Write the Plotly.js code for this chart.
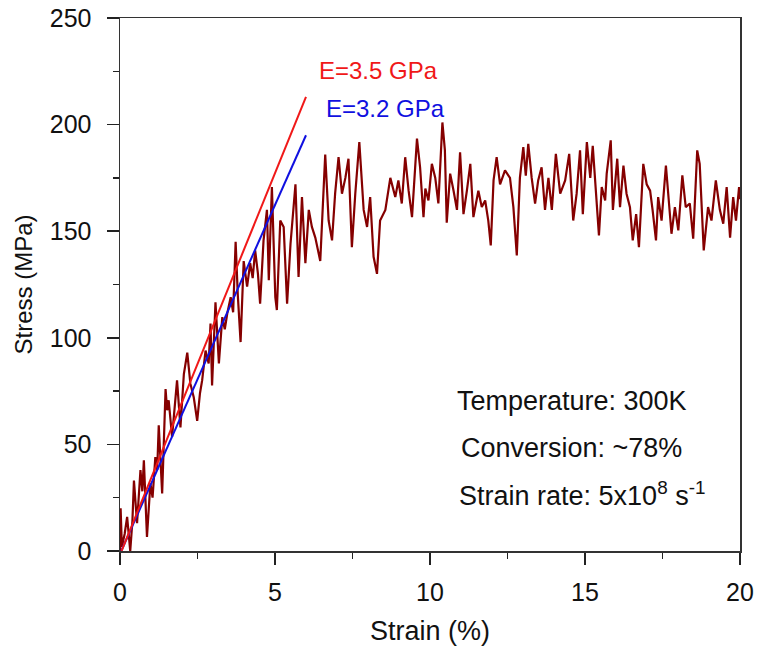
<!DOCTYPE html>
<html>
<head>
<meta charset="utf-8">
<script src="https://cdn.plot.ly/plotly-3.0.1.min.js"></script>
<style>html,body{margin:0;padding:0;background:#fff;}#chart{width:758px;height:654px;}</style>
</head>
<body>
<div id="chart"></div>
<script>
// Stress-strain curve (strain %, stress MPa)
const strain = [0.0,0.02,0.06,0.15,0.23,0.33,0.40,0.45,0.55,0.66,0.72,0.77,0.87,0.98,1.05,1.14,1.2,1.25,1.36,1.47,1.52,1.57,1.68,1.76,1.84,1.95,2.06,2.17,2.27,2.38,2.49,2.58,2.65,2.76,2.86,2.92,2.97,3.08,3.19,3.3,3.38,3.46,3.57,3.65,3.73,3.8,3.89,3.99,4.1,4.2,4.28,4.36,4.45,4.52,4.63,4.74,4.8,4.9,5.01,5.06,
5.17,5.28,5.39,5.5,5.66,5.76,5.87,5.98,6.09,6.19,6.3,6.46,6.62,6.73,6.84,6.94,7.05,7.16,7.27,7.37,7.48,7.59,7.72,7.86,7.97,8.07,8.18,8.29,8.39,8.56,8.72,8.88,8.98,9.09,9.2,9.31,9.42,9.58,9.68,9.79,9.85,9.95,
10.06,10.17,10.27,10.4,10.48,10.54,10.65,10.76,10.87,10.97,11.08,11.19,11.3,11.4,11.56,11.67,11.78,11.88,11.96,12.05,12.15,12.26,12.42,12.58,12.69,12.8,12.9,13.01,13.09,13.17,13.28,13.39,13.49,13.6,13.71,13.82,13.93,14.06,14.2,14.36,14.49,14.62,14.73,14.84,14.93,
15.06,15.17,15.25,15.36,15.45,15.54,15.65,15.7,15.83,15.9,16.04,16.13,16.24,16.34,16.45,16.54,16.65,16.74,16.88,16.99,17.1,17.18,17.29,17.36,17.47,17.61,17.72,17.79,17.9,18.01,18.14,18.25,18.38,18.49,18.62,18.7,18.83,18.97,19.08,19.22,19.35,19.46,19.57,19.68,19.78,19.87,19.97,20.0];
const stress = [0,20,2,8,16,0,14,33,13,38,28,42.5,6.6,31.7,25,44,38,59,27,76,66,70.7,53.5,66,80,58,83,93,78.5,72,61,74,80,94,88,106.7,77.6,116.7,88,109.7,104,111.4,119,112,145,120,98,136,124,135,128,141,130,116,145.6,160,127,170.7,119,113,
155,152,116,144,172,128.5,166,135,160,152,147,136,186,155,145.7,167.7,184.7,167.6,175,184,142.5,167.7,191.8,160,152,166,138,130,155,160,175,166,173.8,163,184.7,169,156.6,193.4,180,156.6,170,164.4,
181.6,175,163,201,188,154,177,169,160,187,158,169,181.6,156.6,169,161.3,164.4,155,143.3,173.8,184.7,172,178.5,175,161.3,138.6,175,189.4,176,191,175,163,173.8,180,160,175,160,186.3,167.6,173.8,186.3,155,167.6,187.9,158,
191.8,175,190,169,148,170.7,164.4,177,192.6,160,184,161.3,180.8,167.6,161.3,145.7,158,142.5,181.6,172,169,160,145.7,166,155,180.8,161.3,148.8,161.3,150.4,176.2,161.3,163,146.5,187.9,181.6,141,161.3,155,173.8,160,153.5,170.7,147,166,155,170.7,165];

// Linear fits
const redFitX = [0.05, 6.0];
const redFitY = [0, 213];
const blueFitX = [0.04, 6.0];
const blueFitY = [0, 195];

const redLabel = "E=3.5 GPa";
const blueLabel = "E=3.2 GPa";
const infoLines = ["Temperature: 300K", "Conversion: ~78%", "Strain rate: 5x10<sup>8</sup> s<sup>-1</sup>"];
const infoX = [10.82, 10.92, 10.88];
const infoY = [70.3, 48.2, 26.6];

const FONT = "Liberation Sans, Arial, sans-serif";

const traces = [
  {x: strain, y: stress, type: "scatter", mode: "lines", line: {color: "#850000", width: 2.2}, hoverinfo: "skip"},
  {x: blueFitX, y: blueFitY, type: "scatter", mode: "lines", line: {color: "#1010e0", width: 2}},
  {x: redFitX, y: redFitY, type: "scatter", mode: "lines", line: {color: "#f01818", width: 2}}
];

const annotations = [
  {x: 6.36, y: 225.6, xref: "x", yref: "y", text: redLabel, showarrow: false, xanchor: "left", yanchor: "middle", font: {family: FONT, size: 24, color: "#f01818"}},
  {x: 6.57, y: 207.6, xref: "x", yref: "y", text: blueLabel, showarrow: false, xanchor: "left", yanchor: "middle", font: {family: FONT, size: 24, color: "#1010e0"}}
];
for (let i = 0; i < infoLines.length; i++) {
  annotations.push({x: infoX[i], y: infoY[i], xref: "x", yref: "y", text: infoLines[i], showarrow: false, xanchor: "left", yanchor: "middle", font: {family: FONT, size: 27, color: "#111"}});
}

const layout = {
  width: 758, height: 654,
  margin: {l: 119.5, r: 18, t: 17.5, b: 103.3},
  paper_bgcolor: "#fff", plot_bgcolor: "#fff",
  showlegend: false,
  font: {family: FONT, color: "#111"},
  xaxis: {
    range: [0, 20], tickvals: [0, 5, 10, 15, 20], ticktext: ["0", "5", "10", "15", "20"],
    ticks: "outside", ticklen: 12, tickwidth: 1.5, tickcolor: "#222",
    minor: {tickvals: [2.5, 7.5, 12.5, 17.5], ticks: "outside", ticklen: 6, tickwidth: 1.5, tickcolor: "#222", showgrid: false},
    showline: true, linecolor: "#333", linewidth: 1.5, mirror: true,
    showgrid: false, zeroline: false,
    tickfont: {family: FONT, size: 25, color: "#111"},
    ticklabelstandoff: 6,
    title: {text: "Strain (%)", font: {family: FONT, size: 27, color: "#111"}, standoff: 16}
  },
  yaxis: {
    range: [0, 250], tickvals: [0, 50, 100, 150, 200, 250], ticktext: ["0", "50", "100", "150", "200", "250"],
    ticks: "outside", ticklen: 12, tickwidth: 1.5, tickcolor: "#222",
    minor: {tickvals: [25, 75, 125, 175, 225], ticks: "outside", ticklen: 6, tickwidth: 1.5, tickcolor: "#222", showgrid: false},
    showline: true, linecolor: "#333", linewidth: 1.5, mirror: true,
    showgrid: false, zeroline: false,
    tickfont: {family: FONT, size: 25, color: "#111"},
    ticklabelstandoff: 10,
    title: {text: "Stress (MPa)", font: {family: FONT, size: 24, color: "#111"}, standoff: 10}
  },
  annotations: annotations
};

Plotly.newPlot("chart", traces, layout, {displayModeBar: false, staticPlot: true});
</script>
</body>
</html>
